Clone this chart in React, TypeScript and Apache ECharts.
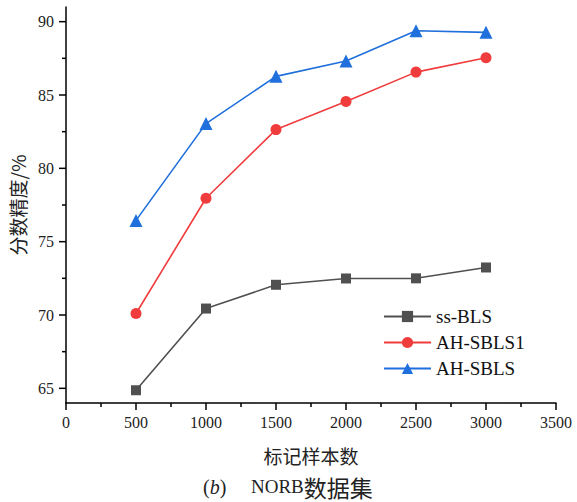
import React, { useEffect, useRef } from "react";
import * as echarts from "echarts";

const xValues = [500, 1000, 1500, 2000, 2500, 3000];
const ssBLS = [64.87, 70.44, 72.06, 72.49, 72.5, 73.24];
const ahSBLS1 = [70.1, 77.96, 82.64, 84.56, 86.56, 87.54];
const ahSBLS = [76.45, 83.05, 86.27, 87.32, 89.38, 89.27];
const xMajorTicks = [0, 500, 1000, 1500, 2000, 2500, 3000, 3500];
const xMinorTicks = [250, 750, 1250, 1750, 2250, 2750, 3250];
const yMajorTicks = [65, 70, 75, 80, 85, 90];
const yMinorTicks = [67.5, 72.5, 77.5, 82.5, 87.5];

const serif = "Liberation Serif";
const cjk = "Noto Sans CJK SC";
const Y_MIN = 64;
const Y_MAX = 91;

function tickSeries(data: number[][], dx: number, dy: number) {
  return {
    type: "custom",
    silent: true,
    clip: false,
    z: 10,
    data,
    renderItem: (params: any, api: any) => {
      const p = api.coord([api.value(0), api.value(1)]);
      return {
        type: "line",
        shape: { x1: p[0], y1: p[1], x2: p[0] + dx, y2: p[1] + dy },
        style: { stroke: "#000", lineWidth: 1.5 },
      };
    },
  };
}

export default function App() {
  const ref = useRef<HTMLDivElement>(null);
  useEffect(() => {
    if (!ref.current) return;
    const chart = echarts.init(ref.current, null, { renderer: "svg" });
    const pair = (arr: number[]) => xValues.map((x, i) => [x, arr[i]]);
    chart.setOption({
      animation: false,
      backgroundColor: "#ffffff",
      textStyle: { fontFamily: serif },
      grid: { left: 66, right: 21, top: 7, bottom: 99, containLabel: false },
      legend: {
        orient: "vertical",
        left: 383,
        top: 307,
        padding: 0,
        itemWidth: 47,
        itemHeight: 14,
        itemGap: 7,
        textStyle: { fontFamily: serif, fontSize: 19, color: "#111" },
        data: ["ss-BLS", "AH-SBLS1", "AH-SBLS"],
      },
      xAxis: {
        type: "value",
        min: 0,
        max: 3500,
        interval: 500,
        axisLine: { show: true, onZero: false, lineStyle: { color: "#000", width: 1.5 } },
        axisTick: { show: false },
        axisLabel: {
          fontFamily: serif,
          fontSize: 16,
          color: "#222",
          margin: 11,
          formatter: (v: number) => String(v),
        },
        splitLine: { show: false },
        name: "标记样本数",
        nameLocation: "middle",
        nameGap: 43,
        nameTextStyle: { fontFamily: cjk, fontSize: 19, color: "#222" },
      },
      yAxis: {
        type: "value",
        min: Y_MIN,
        max: Y_MAX,
        axisLine: { show: true, onZero: false, lineStyle: { color: "#000", width: 1.5 } },
        axisTick: { show: false },
        axisLabel: {
          fontFamily: serif,
          fontSize: 16,
          color: "#222",
          margin: 12,
          customValues: yMajorTicks,
        },
        splitLine: { show: false },
        name: "分数精度/%",
        nameLocation: "middle",
        nameGap: 35,
        nameTextStyle: { fontFamily: cjk, fontSize: 19, color: "#222" },
      },
      graphic: [
        {
          type: "text",
          left: 203,
          top: 477,
          style: {
            text: "({i|b})",
            fontFamily: serif,
            fontSize: 20,
            fill: "#222",
            rich: {
              i: { fontFamily: serif, fontStyle: "italic", fontSize: 20, fill: "#222" },
            },
          },
        },
        {
          type: "text",
          left: 251,
          top: 475,
          style: {
            text: "{n|NORB}{c|数据集}",
            fontSize: 20,
            fill: "#222",
            rich: {
              n: { fontFamily: serif, fontSize: 19, fill: "#222" },
              c: { fontFamily: cjk, fontSize: 23, fill: "#222" },
            },
          },
        },
      ],
      series: [
        {
          name: "ss-BLS",
          type: "line",
          data: pair(ssBLS),
          symbol: "rect",
          symbolSize: 10,
          itemStyle: { color: "#505050" },
          lineStyle: { color: "#505050", width: 1.6 },
        },
        {
          name: "AH-SBLS1",
          type: "line",
          data: pair(ahSBLS1),
          symbol: "circle",
          symbolSize: 11,
          itemStyle: { color: "#f03c3c" },
          lineStyle: { color: "#f03c3c", width: 1.6 },
        },
        {
          name: "AH-SBLS",
          type: "line",
          data: pair(ahSBLS),
          symbol: "triangle",
          symbolSize: 13,
          itemStyle: { color: "#1f6fdc" },
          lineStyle: { color: "#1f6fdc", width: 1.6 },
        },
        tickSeries(xMajorTicks.map((v) => [v, Y_MIN]), 0, 7),
        tickSeries(xMinorTicks.map((v) => [v, Y_MIN]), 0, 4),
        tickSeries(yMajorTicks.map((v) => [0, v]), -7, 0),
        tickSeries(yMinorTicks.map((v) => [0, v]), -4, 0),
      ],
    });
    return () => chart.dispose();
  }, []);
  return <div ref={ref} style={{ width: 577, height: 502, position: "fixed", left: 0, top: 0 }} />;
}
